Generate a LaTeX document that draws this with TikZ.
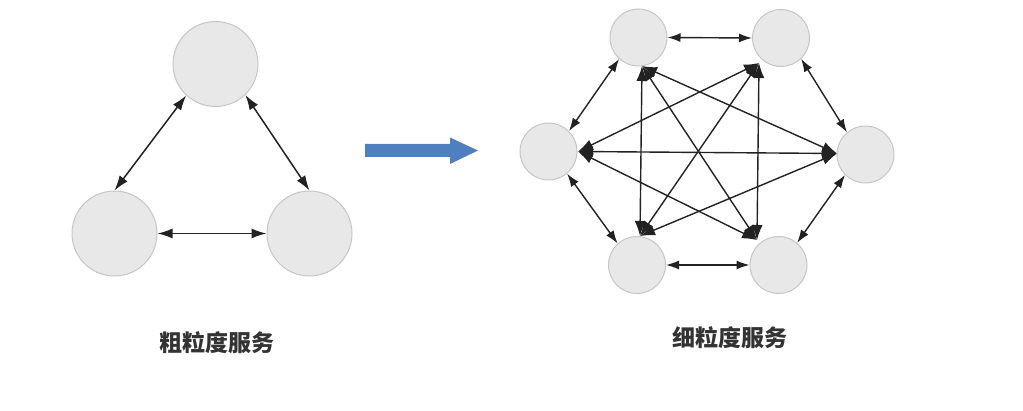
\documentclass[tikz,border=0pt]{standalone}
\usepackage{fontspec}
\newfontfamily\cjk{Noto Sans CJK SC}
\usetikzlibrary{arrows.meta}
\definecolor{nodefill}{HTML}{E8E8E8}
\definecolor{nodeline}{HTML}{C6C6C6}
\definecolor{edgecol}{HTML}{222222}
\definecolor{bigarrow}{HTML}{4F7FBE}
\definecolor{labelcol}{HTML}{333333}
\tikzset{
  bigcirc/.style={circle, fill=nodefill, draw=nodeline, line width=1pt, minimum size=85pt, inner sep=0pt},
  smallcirc/.style={circle, fill=nodefill, draw=nodeline, line width=1pt, minimum size=57pt, inner sep=0pt},
  link/.style={draw=edgecol, line width=1.5pt, {Latex[length=15pt,width=10pt]}-{Latex[length=15pt,width=10pt]}},
  slink/.style={draw=edgecol, line width=1.4pt, {Latex[length=13pt,width=9pt]}-{Latex[length=13pt,width=9pt]}},
  dlink/.style={draw=edgecol, line width=1.4pt, {Latex[length=15pt,width=11pt]}-{Latex[length=15pt,width=11pt]}},
  caption/.style={text=labelcol, font=\cjk\bfseries\fontsize{23}{26}\selectfont, inner sep=0pt}
}
\begin{document}
\begin{tikzpicture}[x=1pt,y=-1pt]
\useasboundingbox (0,0) rectangle (1023,411);
% left diagram
\node[bigcirc] (t) at (215.5,64) {};
\node[bigcirc] (bl) at (114.5,233.5) {};
\node[bigcirc] (br) at (309.5,233.5) {};
\draw[link] (t.227) -- (bl.north);
\draw[link] (t.314) -- (br.north);
\draw[link] (bl.east) -- (br.west);
\node[caption] (c1) at (217,343) {粗粒度服务};
% big arrow
\fill[bigarrow] (365,144) -- (450,144) -- (450,137.5) -- (478,150.5) -- (450,164) -- (450,157) -- (365,157) -- cycle;
% right diagram
\node[smallcirc] (TL) at (638.5,37.5) {};
\node[smallcirc] (TR) at (781,38) {};
\node[smallcirc] (L) at (548.5,151.5) {};
\node[smallcirc] (R) at (865.5,154.5) {};
\node[smallcirc] (BL) at (637,265) {};
\node[smallcirc] (BR) at (778.5,265) {};
% hexagon edges
\draw[slink] (TL.east) -- (TR.west);
\draw[slink] (TL.228) -- (L.45);
\draw[slink] (TR.314) -- (R.130);
\draw[slink] (L.310) -- (BL.132);
\draw[slink] (R.225) -- (BR.50);
\draw[slink] (BL.east) -- (BR.west);
% convergence points
\coordinate (aTL) at (642,66);
\coordinate (aTR) at (759,63);
\coordinate (aL) at (578,151.5);
\coordinate (aR) at (837,153.5);
\coordinate (aBL) at (640,236);
\coordinate (aBR) at (757,240);
% diagonals
\draw[dlink] (aTL) -- (aBL);
\draw[dlink] (aTL) -- (aBR);
\draw[dlink] (aTL) -- (aR);
\draw[dlink] (aTR) -- (aL);
\draw[dlink] (aTR) -- (aBL);
\draw[dlink] (aTR) -- (aBR);
\draw[dlink] (aL) -- (aR);
\draw[dlink] (aL) -- (aBR);
\draw[dlink] (aR) -- (aBL);
\node[caption] (c2) at (730,338) {细粒度服务};
\end{tikzpicture}
\end{document}
